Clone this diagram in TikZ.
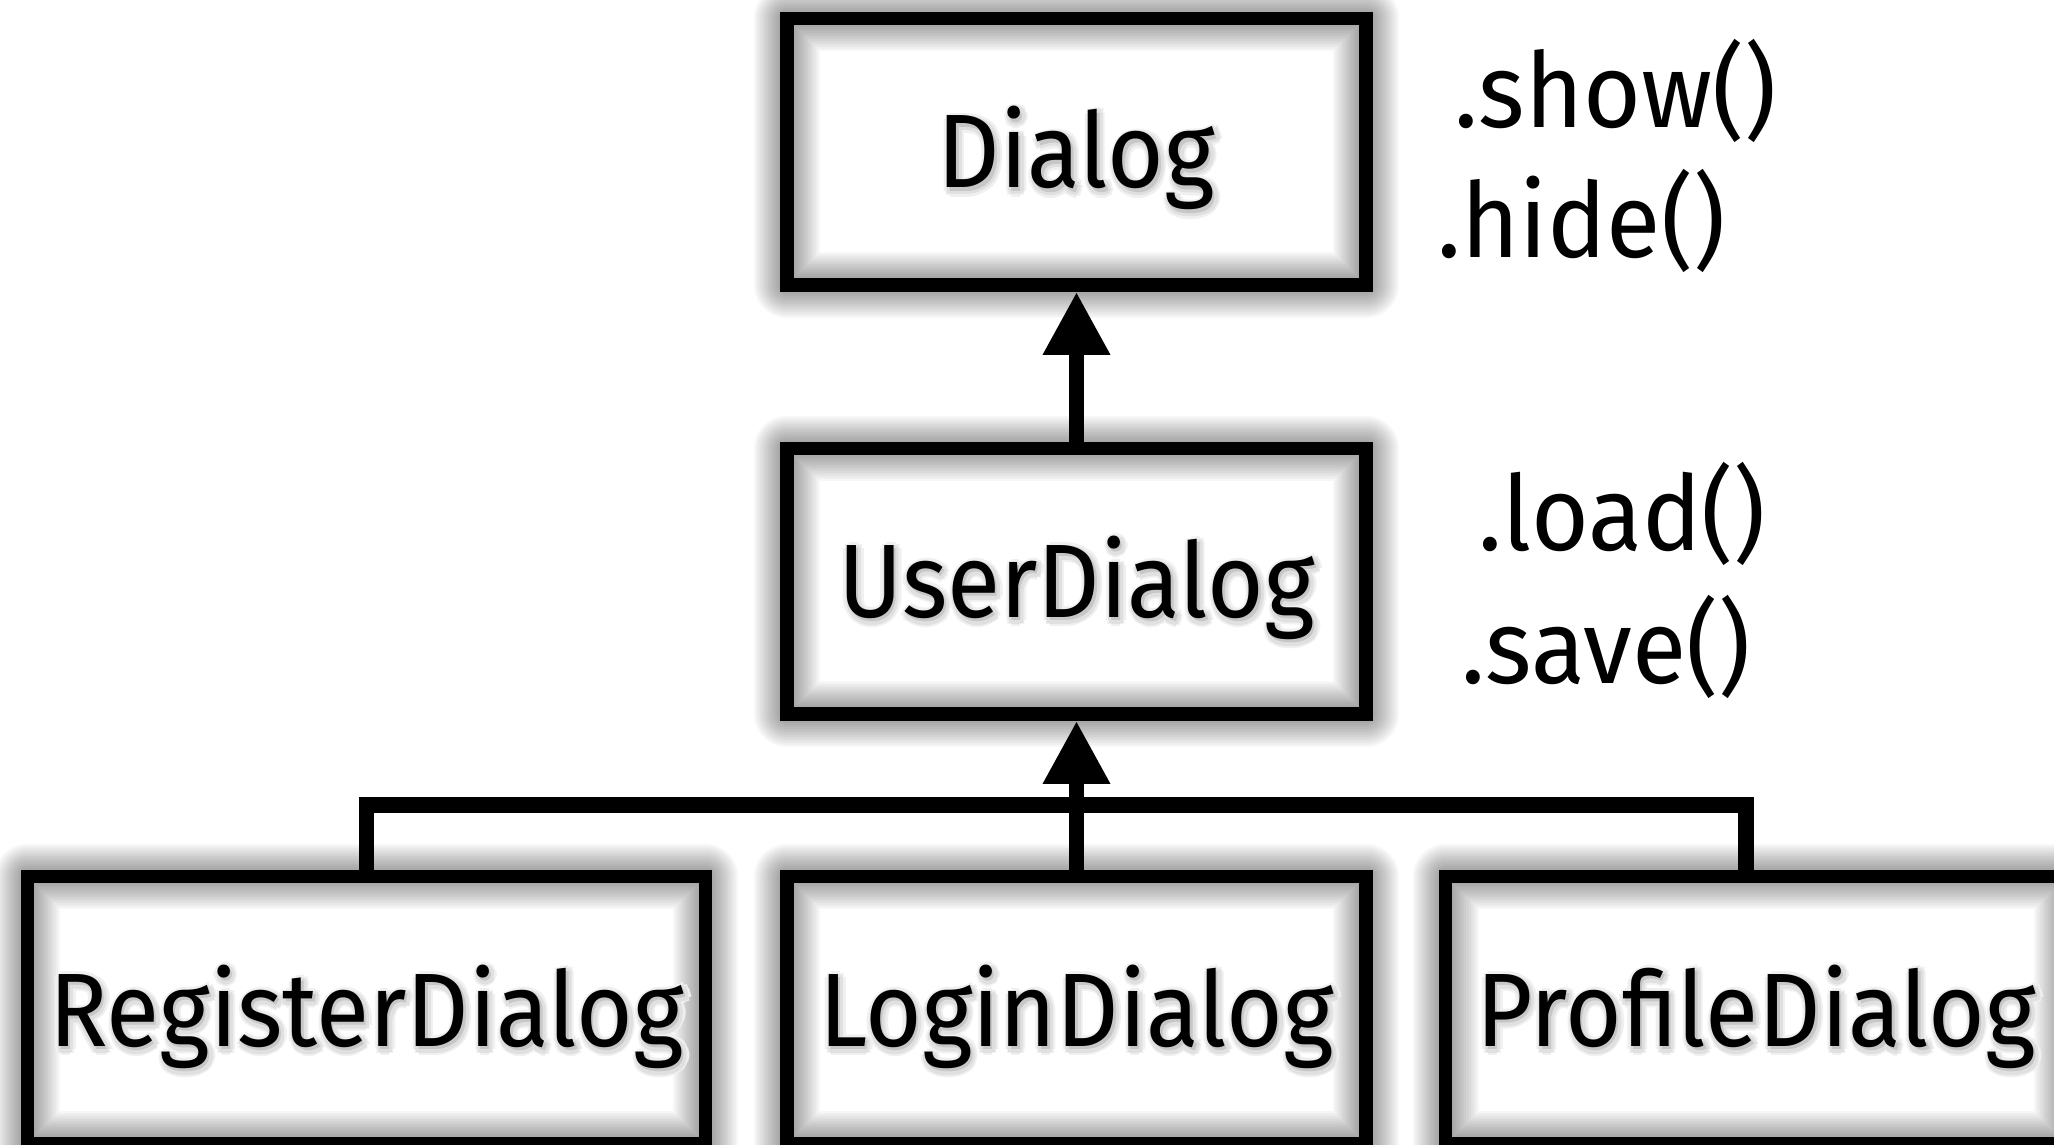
\documentclass[tikz,border=0pt]{standalone}
\usepackage{fontspec}
\setmainfont{Fira Sans}
\usetikzlibrary{arrows.meta}
\newcommand\shc[4]{\rlap{\hspace*{#1}\raisebox{#2}{\textcolor{#3}{#4}}}}
\newcommand\sh[1]{%
\shc{0.085cm}{-0.035cm}{black!6}{#1}\shc{0.068cm}{0.007cm}{black!6}{#1}%
\shc{0.025cm}{0.025cm}{black!6}{#1}\shc{-0.018cm}{0.007cm}{black!6}{#1}%
\shc{-0.035cm}{-0.035cm}{black!6}{#1}\shc{-0.018cm}{-0.077cm}{black!6}{#1}%
\shc{0.025cm}{-0.095cm}{black!6}{#1}\shc{0.068cm}{-0.077cm}{black!6}{#1}%
\shc{0.060cm}{-0.035cm}{black!12}{#1}\shc{0.050cm}{-0.010cm}{black!12}{#1}%
\shc{0.025cm}{0.000cm}{black!12}{#1}\shc{0.000cm}{-0.010cm}{black!12}{#1}%
\shc{-0.010cm}{-0.035cm}{black!12}{#1}\shc{0.000cm}{-0.060cm}{black!12}{#1}%
\shc{0.025cm}{-0.070cm}{black!12}{#1}\shc{0.050cm}{-0.060cm}{black!12}{#1}%
\shc{0.025cm}{-0.035cm}{black!22}{#1}#1}
\newcommand\nx[1]{\scalebox{0.93}[1]{\sh{#1}}}
\newcommand\labfont{\fontsize{29.7pt}{36pt}\selectfont}
\tikzset{
  gl/.style={preaction={draw=black,draw opacity=0.032,line width=#1,line join=round}},
  glow/.style={gl=0.653cm,gl=0.613cm,gl=0.573cm,gl=0.533cm,gl=0.493cm,gl=0.453cm,gl=0.413cm,
    gl=0.373cm,gl=0.333cm,gl=0.293cm,gl=0.253cm,gl=0.213cm,gl=0.173cm},
  box/.style={glow,draw=black,line width=0.133cm,inner sep=0pt,
    text height=0.72cm,text depth=0pt,font=\labfont,line join=miter},
  meth/.style={anchor=base west,inner sep=0pt,font=\labfont},
  conn/.style={draw=black,line width=0.155cm,line join=miter},
  arr/.style={conn,-{Triangle[length=0.63cm,width=0.63cm]}}
}
\begin{document}
\begin{tikzpicture}[x=0.01cm,y=-0.01cm]
\useasboundingbox (0,0) rectangle (2054,1144);
\clip (0,0) rectangle (2054,1144);
\node[box,minimum width=5.784cm,minimum height=2.667cm] (dialog) at (1076.5,151.65) {\nx{Dialog}};
\node[box,minimum width=5.784cm,minimum height=2.657cm] (user) at (1076.5,581.2) {\nx{UserDialog}};
\node[box,minimum width=6.78cm,minimum height=2.668cm] (register) at (366.5,1010.1) {\nx{RegisterDialog}};
\node[box,minimum width=5.784cm,minimum height=2.668cm] (login) at (1076.5,1010.1) {\nx{LoginDialog}};
\node[box,minimum width=6.2cm,minimum height=2.668cm] (profile) at (1756,1010.1) {\nx{ProfileDialog}};
\node[meth] (mshow) at (1454,127) {\scalebox{0.95}[1]{.show()}};
\node[meth] (mhide) at (1437,257) {\scalebox{0.95}[1]{.hide()}};
\node[meth] (mload) at (1478,550) {\scalebox{0.95}[1]{.load()}};
\node[meth] (msave) at (1461,683) {\scalebox{0.95}[1]{.save()}};
\coordinate (bus) at (1076.5,805);
\draw[arr] (user.north) -- (dialog.south);
\draw[conn] (register.north) |- (bus) -| ([xshift=-0.1cm]profile.north);
\draw[arr] (login.north) -- (user.south);
\end{tikzpicture}
\end{document}
